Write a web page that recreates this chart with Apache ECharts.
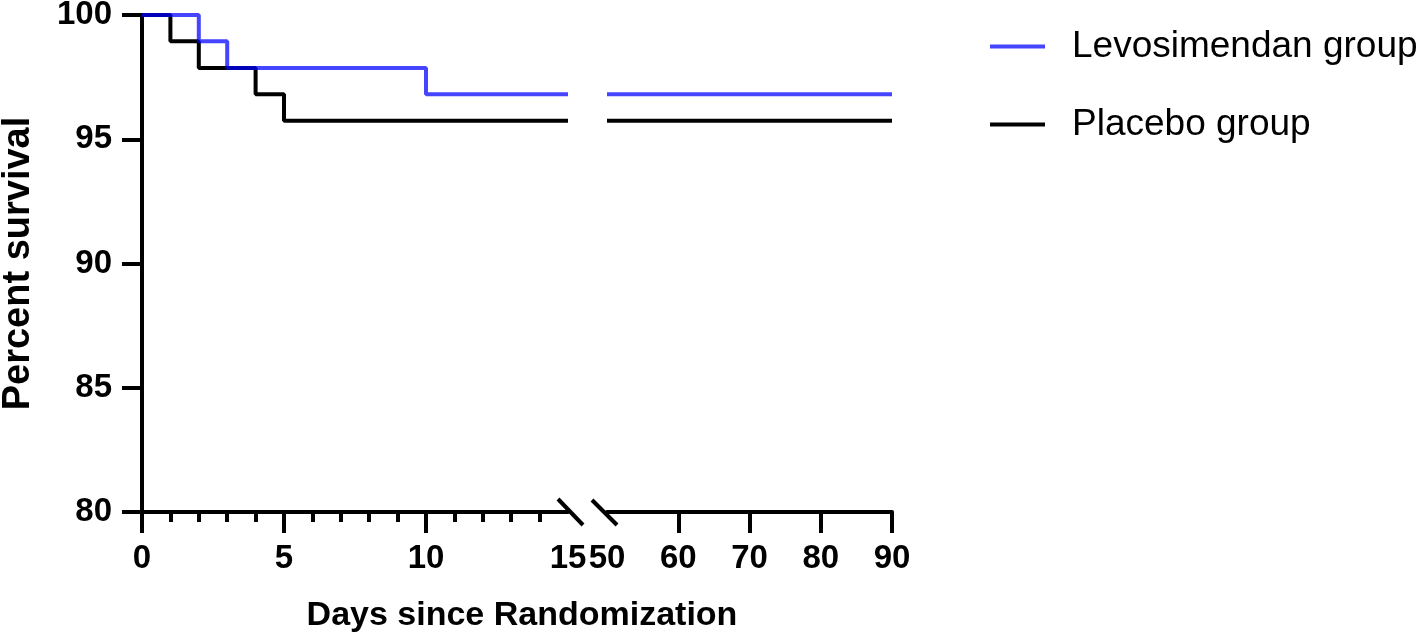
<!DOCTYPE html>
<html>
<head>
<meta charset="utf-8">
<script src="https://cdn.jsdelivr.net/npm/echarts@6/dist/echarts.min.js"></script>
<style>
  html, body { margin: 0; padding: 0; background: #fff; }
  #chart { width: 1418px; height: 637px; }
</style>
</head>
<body>
<div id="chart"></div>
<script>
// Kaplan-Meier steps (day, percent surviving)
const levoDays = [0, 2, 3, 10, 15];
const levoSurvival = [100, 98.94, 97.87, 96.81, 96.81];
const placeboDays = [0, 1, 2, 4, 5, 15];
const placeboSurvival = [100, 98.94, 97.87, 96.81, 95.74, 95.74];
// after the axis break
const lateDays = [50, 90];
const levoLate = [96.81, 96.81];
const placeboLate = [95.74, 95.74];

const earlyLabels = [0, 5, 10, 15];
const earlyMajorTicks = [0, 5, 10];
const earlyMinorTicks = [1, 2, 3, 4, 6, 7, 8, 9, 11, 12, 13, 14];
const lateLabels = [50, 60, 70, 80, 90];
const lateTicks = [60, 70, 80, 90];

const font = "Liberation Sans, Arial, sans-serif";
const blue = "rgba(0,0,255,0.73)";
const black = "#000";

const plotTop = 15, plotH = 497;
const left1 = 142, width1 = 426;
const left2 = 607, width2 = 285;
const axisY = plotTop + plotH;

const pairs = (xs, ys) => xs.map((x, i) => [x, ys[i]]);

const tickLabel = { color: black, fontFamily: font, fontWeight: "bold", fontSize: 33 };

const chart = echarts.init(document.getElementById("chart"), null, { renderer: "canvas" });

chart.setOption({
  animation: false,
  title: {
    text: "Days since Randomization",
    left: (left1 + left2 + width2) / 2,
    textAlign: "center",
    top: 594,
    textStyle: { color: black, fontFamily: font, fontWeight: "bold", fontSize: 34 }
  },
  legend: {
    data: ["Levosimendan group", "Placebo group"],
    orient: "vertical",
    left: 985,
    top: 23,
    itemWidth: 55,
    itemHeight: 4,
    itemGap: 41,
    icon: "rect",
    textStyle: { color: black, fontFamily: font, fontSize: 37, padding: [0, 0, 0, 22] }
  },
  grid: [
    { left: left1, top: plotTop, width: width1, height: plotH, outerBoundsMode: "none" },
    { left: left2, top: plotTop, width: width2, height: plotH, outerBoundsMode: "none" }
  ],
  xAxis: [
    {
      type: "value", gridIndex: 0, position: "bottom", min: 0, max: 15, interval: 5,
      axisLine: { lineStyle: { color: black, width: 4 } },
      axisTick: { customValues: earlyMajorTicks, length: 21, lineStyle: { color: black, width: 4 } },
      axisLabel: Object.assign({ customValues: earlyLabels, margin: 30 }, tickLabel),
      splitLine: { show: false }
    },
    {
      type: "value", gridIndex: 0, position: "bottom", min: 0, max: 15, interval: 5,
      axisLine: { show: false },
      axisTick: { customValues: earlyMinorTicks, length: 10, lineStyle: { color: black, width: 4 } },
      axisLabel: { show: false },
      splitLine: { show: false }
    },
    {
      type: "value", gridIndex: 1, position: "bottom", min: 50, max: 90, interval: 10,
      axisLine: { lineStyle: { color: black, width: 4 } },
      axisTick: { customValues: lateTicks, length: 21, lineStyle: { color: black, width: 4 } },
      axisLabel: Object.assign({ customValues: lateLabels, margin: 30 }, tickLabel),
      splitLine: { show: false }
    }
  ],
  yAxis: [
    {
      type: "value", gridIndex: 0, min: 80, max: 100, interval: 5,
      name: "Percent survival",
      nameLocation: "middle",
      nameRotate: 90,
      nameGap: 104,
      nameTextStyle: { color: black, fontFamily: font, fontWeight: "bold", fontSize: 38 },
      axisLine: { show: true, lineStyle: { color: black, width: 4 } },
      axisTick: { show: true, length: 20, lineStyle: { color: black, width: 4 } },
      axisLabel: Object.assign({ margin: 30 }, tickLabel),
      splitLine: { show: false }
    },
    {
      type: "value", gridIndex: 1, min: 80, max: 100, interval: 5,
      axisLine: { show: false }, axisTick: { show: false },
      axisLabel: { show: false }, splitLine: { show: false }
    }
  ],
  series: [
    {
      name: "Placebo group", type: "line", step: "end", xAxisIndex: 0, yAxisIndex: 0,
      data: pairs(placeboDays, placeboSurvival), showSymbol: false,
      lineStyle: { color: black, width: 4 }, itemStyle: { color: black }
    },
    {
      name: "Placebo group", type: "line", xAxisIndex: 2, yAxisIndex: 1,
      data: pairs(lateDays, placeboLate), showSymbol: false,
      lineStyle: { color: black, width: 4 }, itemStyle: { color: black }
    },
    {
      name: "Levosimendan group", type: "line", step: "end", xAxisIndex: 0, yAxisIndex: 0,
      data: pairs(levoDays, levoSurvival), showSymbol: false,
      lineStyle: { color: blue, width: 4 }, itemStyle: { color: blue }
    },
    {
      name: "Levosimendan group", type: "line", xAxisIndex: 2, yAxisIndex: 1,
      data: pairs(lateDays, levoLate), showSymbol: false,
      lineStyle: { color: blue, width: 4 }, itemStyle: { color: blue }
    }
  ],
  graphic: [
    // axis break marks
    { type: "line", shape: { x1: left1 + width1 - 10, y1: axisY - 13, x2: left1 + width1 + 15, y2: axisY + 13 }, style: { stroke: black, lineWidth: 4 } },
    { type: "line", shape: { x1: left2 - 15, y1: axisY - 12, x2: left2 + 10, y2: axisY + 13 }, style: { stroke: black, lineWidth: 4 } }
  ]
});
</script>
</body>
</html>
